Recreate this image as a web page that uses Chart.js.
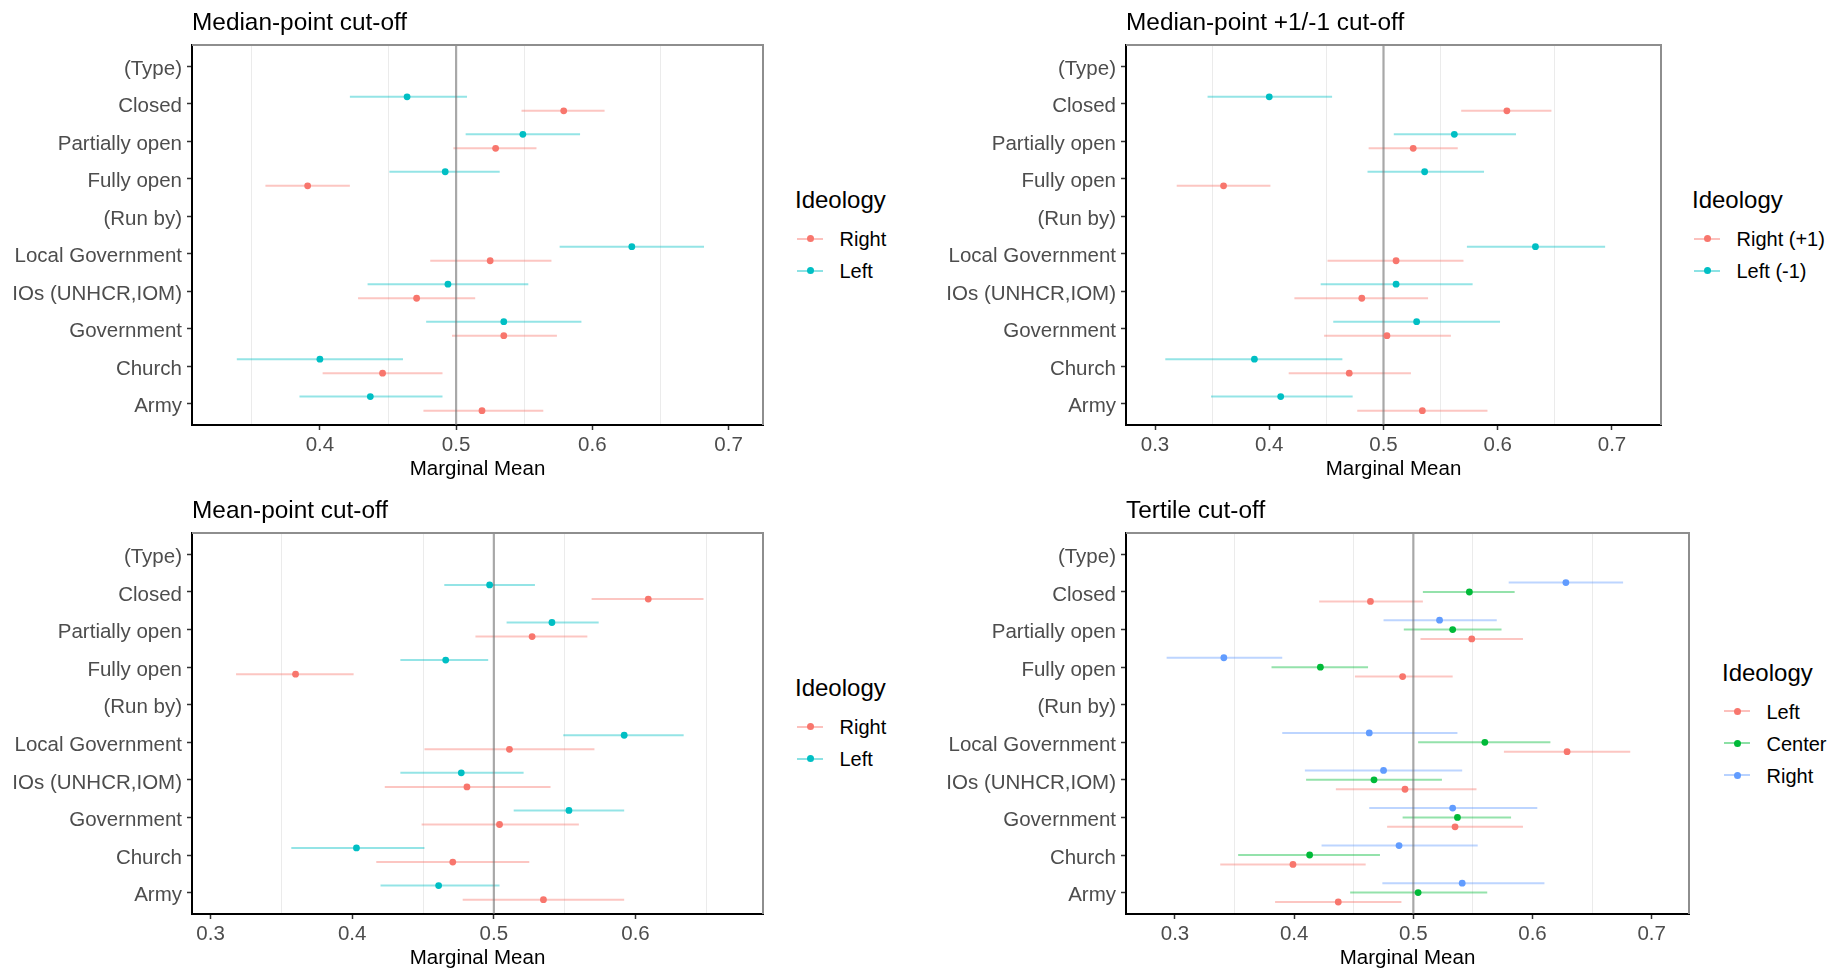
<!DOCTYPE html>
<html>
<head>
<meta charset="utf-8">
<script src="https://cdn.jsdelivr.net/npm/chart.js@4.4.1/dist/chart.umd.min.js"></script>
<style>
  body { margin: 0; background: #fff; width: 1841px; height: 970px; position: relative; overflow: hidden;
         font-family: "Liberation Sans", Arial, Helvetica, sans-serif; }
  canvas { position: absolute; }
  .txt { position: absolute; white-space: nowrap; }
  .key { position: absolute; height: 2px; }
  .dot { position: absolute; width: 7px; height: 7px; border-radius: 50%; }
</style>
</head>
<body>
<script>
const FONT = '"Liberation Sans", Arial, Helvetica, sans-serif';

const categories = ['(Type)', 'Closed', 'Partially open', 'Fully open', '(Run by)',
  'Local Government', 'IOs (UNHCR,IOM)', 'Government', 'Church', 'Army'];

// Median-point cut-off
const medRightEst = [null, 0.579, 0.529, 0.391, null, 0.525, 0.471, 0.535, 0.446, 0.519];
const medRightLo  = [null, 0.548, 0.498, 0.360, null, 0.481, 0.428, 0.497, 0.402, 0.476];
const medRightHi  = [null, 0.609, 0.559, 0.422, null, 0.570, 0.514, 0.574, 0.490, 0.564];
const medLeftEst  = [null, 0.464, 0.549, 0.492, null, 0.629, 0.494, 0.535, 0.400, 0.437];
const medLeftLo   = [null, 0.422, 0.507, 0.451, null, 0.576, 0.435, 0.478, 0.339, 0.385];
const medLeftHi   = [null, 0.508, 0.591, 0.532, null, 0.682, 0.553, 0.592, 0.461, 0.490];

// Median-point +1/-1 cut-off
const pmRightEst = [null, 0.608, 0.526, 0.360, null, 0.511, 0.481, 0.503, 0.470, 0.534];
const pmRightLo  = [null, 0.568, 0.487, 0.319, null, 0.451, 0.422, 0.448, 0.417, 0.477];
const pmRightHi  = [null, 0.647, 0.565, 0.401, null, 0.570, 0.539, 0.559, 0.524, 0.591];
const pmLeftEst  = [null, 0.400, 0.562, 0.536, null, 0.633, 0.511, 0.529, 0.387, 0.410];
const pmLeftLo   = [null, 0.346, 0.509, 0.486, null, 0.573, 0.445, 0.456, 0.309, 0.349];
const pmLeftHi   = [null, 0.455, 0.616, 0.588, null, 0.694, 0.578, 0.602, 0.464, 0.473];

// Mean-point cut-off
const meanRightEst = [null, 0.609, 0.527, 0.360, null, 0.511, 0.481, 0.504, 0.471, 0.535];
const meanRightLo  = [null, 0.569, 0.487, 0.318, null, 0.451, 0.423, 0.449, 0.417, 0.478];
const meanRightHi  = [null, 0.648, 0.566, 0.401, null, 0.571, 0.540, 0.560, 0.525, 0.592];
const meanLeftEst  = [null, 0.497, 0.541, 0.466, null, 0.592, 0.477, 0.553, 0.403, 0.461];
const meanLeftLo   = [null, 0.465, 0.509, 0.434, null, 0.549, 0.434, 0.514, 0.357, 0.420];
const meanLeftHi   = [null, 0.529, 0.574, 0.496, null, 0.634, 0.521, 0.592, 0.451, 0.504];

// Tertile cut-off
const terLeftEst   = [null, 0.464, 0.549, 0.491, null, 0.629, 0.493, 0.535, 0.399, 0.437];
const terLeftLo    = [null, 0.421, 0.506, 0.451, null, 0.576, 0.435, 0.478, 0.338, 0.384];
const terLeftHi    = [null, 0.508, 0.592, 0.533, null, 0.682, 0.553, 0.592, 0.460, 0.490];
const terCenterEst = [null, 0.547, 0.533, 0.422, null, 0.560, 0.467, 0.537, 0.413, 0.504];
const terCenterLo  = [null, 0.508, 0.492, 0.381, null, 0.504, 0.410, 0.491, 0.353, 0.447];
const terCenterHi  = [null, 0.585, 0.574, 0.462, null, 0.615, 0.524, 0.582, 0.472, 0.562];
const terRightEst  = [null, 0.628, 0.522, 0.341, null, 0.463, 0.475, 0.533, 0.488, 0.541];
const terRightLo   = [null, 0.580, 0.475, 0.293, null, 0.390, 0.409, 0.463, 0.423, 0.474];
const terRightHi   = [null, 0.676, 0.570, 0.390, null, 0.537, 0.541, 0.604, 0.554, 0.610];

const RED = '#F8766D', TEAL = '#00BFC4', GREEN = '#00BA38', BLUE = '#619CFF';

function fade(hex, a) {
  const n = parseInt(hex.slice(1), 16);
  return `rgba(${n >> 16},${(n >> 8) & 255},${n & 255},${a})`;
}

// text placed by the vertical centre of its capitals
function addText(str, x, capY, size, color) {
  const d = document.createElement('div');
  d.className = 'txt';
  d.textContent = str;
  d.style.left = x + 'px';
  d.style.top = (capY - size * 0.4885) + 'px';
  d.style.fontSize = size + 'px';
  d.style.lineHeight = size + 'px';
  d.style.color = color || '#000';
  document.body.appendChild(d);
}

function addLegend(x, titleY, rows) {
  addText('Ideology', x, titleY, 24);
  rows.forEach(r => {
    const key = document.createElement('div');
    key.className = 'key';
    key.style.left = (x + 2) + 'px';
    key.style.top = (r.y - 1) + 'px';
    key.style.width = '26px';
    key.style.background = fade(r.color, 0.45);
    document.body.appendChild(key);
    const dot = document.createElement('div');
    dot.className = 'dot';
    dot.style.left = (x + 15 - 3.5) + 'px';
    dot.style.top = (r.y - 3.5) + 'px';
    dot.style.background = r.color;
    document.body.appendChild(dot);
    addText(r.label, x + 44.5, r.y + 0.7, 20);
  });
}

const isMajor = v => Math.round(v * 100) % 10 === 0;

// CI segments, reference line at 0.5 and the grey top/right frame
const rangePlugin = {
  id: 'ranges',
  beforeDatasetsDraw(chart) {
    const { ctx, chartArea: a, scales: { x, y } } = chart;
    ctx.save();
    ctx.beginPath();
    ctx.rect(a.left, a.top, a.right - a.left, a.bottom - a.top);
    ctx.clip();
    chart.data.datasets.forEach(ds => {
      ctx.strokeStyle = ds.rangeColor;
      ctx.lineWidth = 2;
      ds.data.forEach(p => {
        const py = y.getPixelForValue(p.y);
        ctx.beginPath();
        ctx.moveTo(x.getPixelForValue(p.lo), py);
        ctx.lineTo(x.getPixelForValue(p.hi), py);
        ctx.stroke();
      });
    });
    const rx = x.getPixelForValue(0.5);
    ctx.strokeStyle = 'rgba(110,110,110,0.6)';
    ctx.lineWidth = 2.2;
    ctx.beginPath();
    ctx.moveTo(rx, a.top);
    ctx.lineTo(rx, a.bottom);
    ctx.stroke();
    ctx.restore();
  },
  afterDraw(chart) {
    const { ctx, chartArea: a } = chart;
    ctx.save();
    ctx.strokeStyle = '#8e8e8e';
    ctx.lineWidth = 2;
    ctx.beginPath();
    ctx.moveTo(a.left, a.top);
    ctx.lineTo(a.right, a.top);
    ctx.lineTo(a.right, a.bottom);
    ctx.stroke();
    ctx.restore();
  }
};

function makePanel(p) {
  const c = document.createElement('canvas');
  c.width = p.box.width;
  c.height = p.box.height;
  c.style.left = p.box.left + 'px';
  c.style.top = p.box.top + 'px';
  document.body.appendChild(c);

  addText(p.title, p.area.left, p.titleY, 24.4);

  const axisH = p.box.top + p.box.height - p.area.bottom;
  const datasets = p.series.map(s => ({
    label: s.label,
    data: s.est.map((v, i) => v == null ? null : { x: v, y: i + s.offset, lo: s.lo[i], hi: s.hi[i] })
      .filter(Boolean),
    pointRadius: 3.4,
    pointBorderWidth: 0,
    pointBackgroundColor: s.color,
    rangeColor: fade(s.color, 0.42),
    showLine: false
  }));

  new Chart(c, {
    type: 'scatter',
    data: { datasets },
    plugins: [rangePlugin],
    options: {
      responsive: false,
      animation: false,
      events: [],
      layout: {
        padding: {
          left: 0,
          top: p.area.top - p.box.top,
          right: p.box.left + p.box.width - p.area.right,
          bottom: 0
        }
      },
      plugins: { legend: { display: false }, tooltip: { enabled: false } },
      scales: {
        x: {
          type: 'linear',
          min: p.xMin,
          max: p.xMax,
          ticks: {
            stepSize: 0.05,
            autoSkip: false,
            includeBounds: false,
            maxRotation: 0,
            padding: 3,
            color: '#4d4d4d',
            font: { family: FONT, size: 20.5 },
            callback: v => isMajor(v) ? v.toFixed(1) : ''
          },
          grid: {
            color: ctx => isMajor(ctx.tick.value) ? 'rgba(0,0,0,0)' : '#ebebeb',
            lineWidth: 1,
            tickLength: 5,
            tickWidth: 1.5,
            tickColor: ctx => isMajor(ctx.tick.value) ? '#333' : 'rgba(0,0,0,0)'
          },
          border: { color: '#000', width: 2 },
          title: {
            display: true,
            text: 'Marginal Mean',
            color: '#000',
            font: { family: FONT, size: 20.5, lineHeight: 1 },
            padding: { top: 0, bottom: 0 }
          },
          afterFit: s => { s.height = axisH; }
        },
        y: {
          type: 'linear',
          reverse: true,
          min: -0.57,
          max: 9.57,
          ticks: {
            stepSize: 1,
            autoSkip: false,
            includeBounds: false,
            padding: 5,
            labelOffset: 3,
            color: '#4d4d4d',
            font: { family: FONT, size: 20.5 },
            callback: v => categories[Math.round(v)] ?? ''
          },
          grid: { drawOnChartArea: false, tickLength: 5, tickWidth: 1.5, tickColor: '#333' },
          border: { color: '#000', width: 2 },
          afterFit: s => { s.width = p.area.left - p.box.left; }
        }
      }
    }
  });

  addLegend(p.legendX, p.legendY, p.series.slice().reverse().map((s, k) => ({
    label: s.label, color: s.color, y: p.legendRows[k]
  })));
}

makePanel({
  title: 'Median-point cut-off', titleY: 21.7,
  box: { left: 0, top: 0, width: 780, height: 480 },
  area: { left: 192, right: 763, top: 45, bottom: 425 },
  xMin: 0.3061, xMax: 0.7253,
  series: [
    { label: 'Left', color: TEAL, est: medLeftEst, lo: medLeftLo, hi: medLeftHi, offset: -0.1875 },
    { label: 'Right', color: RED, est: medRightEst, lo: medRightLo, hi: medRightHi, offset: 0.1875 }
  ],
  legendX: 795, legendY: 200, legendRows: [238.5, 270.5]
});

makePanel({
  title: 'Median-point +1/-1 cut-off', titleY: 21.7,
  box: { left: 920, top: 0, width: 760, height: 480 },
  area: { left: 1126, right: 1661, top: 45, bottom: 425 },
  xMin: 0.2746, xMax: 0.7429,
  series: [
    { label: 'Left (-1)', color: TEAL, est: pmLeftEst, lo: pmLeftLo, hi: pmLeftHi, offset: -0.1875 },
    { label: 'Right (+1)', color: RED, est: pmRightEst, lo: pmRightLo, hi: pmRightHi, offset: 0.1875 }
  ],
  legendX: 1692, legendY: 200, legendRows: [238.5, 270.5]
});

makePanel({
  title: 'Mean-point cut-off', titleY: 509.7,
  box: { left: 0, top: 488, width: 780, height: 481 },
  area: { left: 192, right: 763, top: 533, bottom: 914 },
  xMin: 0.2869, xMax: 0.6900,
  series: [
    { label: 'Left', color: TEAL, est: meanLeftEst, lo: meanLeftLo, hi: meanLeftHi, offset: -0.1875 },
    { label: 'Right', color: RED, est: meanRightEst, lo: meanRightLo, hi: meanRightHi, offset: 0.1875 }
  ],
  legendX: 795, legendY: 688, legendRows: [726.5, 758.5]
});

makePanel({
  title: 'Tertile cut-off', titleY: 509.7,
  box: { left: 920, top: 488, width: 790, height: 481 },
  area: { left: 1126, right: 1689, top: 533, bottom: 914 },
  xMin: 0.2589, xMax: 0.7313,
  series: [
    { label: 'Right', color: BLUE, est: terRightEst, lo: terRightLo, hi: terRightHi, offset: -0.25 },
    { label: 'Center', color: GREEN, est: terCenterEst, lo: terCenterLo, hi: terCenterHi, offset: 0 },
    { label: 'Left', color: RED, est: terLeftEst, lo: terLeftLo, hi: terLeftHi, offset: 0.25 }
  ],
  legendX: 1722, legendY: 672.5, legendRows: [711, 743, 775]
});
</script>
</body>
</html>
